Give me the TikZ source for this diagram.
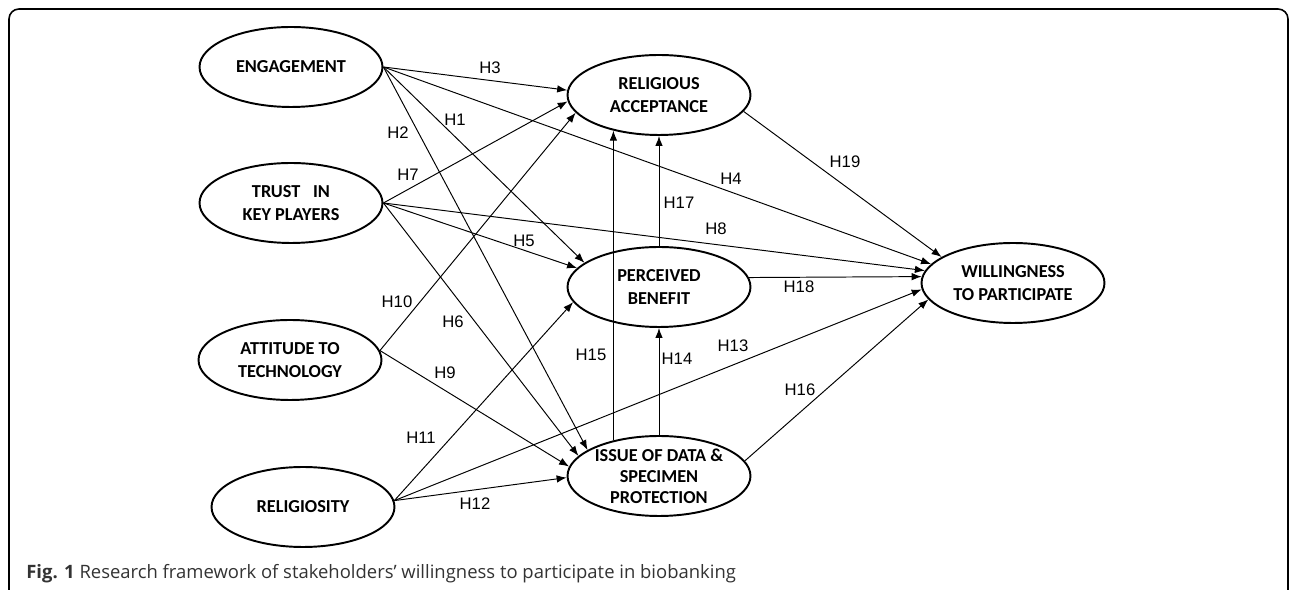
\documentclass[tikz,border=0pt]{standalone}
\usepackage{fontspec}
\usetikzlibrary{shapes.geometric,arrows.meta}
\newfontfamily\constructfont{Carlito}
\newfontfamily\hypfont{Liberation Sans}
\newfontfamily\capfont{Open Sans}

\begin{document}
\begin{tikzpicture}[x=0.02cm,y=-0.02cm,
  construct/.style={ellipse,draw,line width=1.1pt,minimum width=3.66cm,minimum height=1.6cm,inner sep=0pt,align=center,
    font=\constructfont\bfseries\fontsize{10.4}{13.4}\selectfont},
  hyp/.style={inner sep=0pt,font=\hypfont\fontsize{9.5}{11}\selectfont},
  link/.style={-{Latex[length=2mm,width=1.5mm]},line width=0.55pt}]
\useasboundingbox (0,0) rectangle (1292,590);
\draw[line width=0.9pt,rounded corners=0.2cm] (9,640) -- (9,9) -- (1288,9) -- (1288,640);

% constructs
\node[construct] (eng) at (291,67) {ENGAGEMENT};
\node[construct] (trust) at (291,203) {TRUST\hspace{0.7em}IN\\KEY PLAYERS};
\node[construct] (att) at (290,360) {ATTITUDE TO\\TECHNOLOGY};
\node[construct] (rel) at (303,507) {RELIGIOSITY};
\node[construct] (ra) at (659,95) {RELIGIOUS\\ACCEPTANCE};
\node[construct] (pb) at (659,287) {PERCEIVED\\BENEFIT};
\node[construct,font=\constructfont\bfseries\fontsize{10.4}{11.9}\selectfont] (iss) at (659,476) {ISSUE OF DATA \&\\SPECIMEN\\PROTECTION};
\node[construct] (wp) at (1013,283) {WILLINGNESS\\TO PARTICIPATE};

% hypotheses
\draw[link] (eng.east) -- (ra.177);
\draw[link] (eng.east) -- (pb.162);
\draw[link] (eng.east) -- (iss.160);
\draw[link] (eng.east) -- (wp.167);
\draw[link] (trust.east) -- (ra.184);
\draw[link] (trust.east) -- (pb.167);
\draw[link] (trust.east) -- (iss.166);
\draw[link] (trust.east) -- (wp.172);
\draw[link] (att.6) -- (ra.192);
\draw[link] (att.6) -- (iss.174);
\draw[link] (rel.4) -- (pb.190);
\draw[link] (rel.4) -- (iss.181);
\draw[link] (rel.4) -- (wp.184);
\draw[link] (iss.142) -- (ra.218);
\draw[link] (iss.north) -- (pb.south);
\draw[link] (pb.north) -- (ra.south);
\draw[link] (iss.10) -- (wp.191);
\draw[link] (pb.6) -- (wp.176);
\draw[link] (ra.349) -- (wp.160);

\node[hyp] (h1) at (455,120) {H1};
\node[hyp] (h2) at (398,133) {H2};
\node[hyp] (h3) at (490,68) {H3};
\node[hyp] (h4) at (731,179) {H4};
\node[hyp] (h5) at (524,241) {H5};
\node[hyp] (h6) at (453,322) {H6};
\node[hyp] (h7) at (408,175) {H7};
\node[hyp] (h8) at (716,229) {H8};
\node[hyp] (h9) at (445,373) {H9};
\node[hyp] (h10) at (397,302) {H10};
\node[hyp] (h11) at (421,438) {H11};
\node[hyp] (h12) at (475,504) {H12};
\node[hyp] (h13) at (733,346) {H13};
\node[hyp] (h14) at (677,359) {H14};
\node[hyp] (h15) at (591,355) {H15};
\node[hyp] (h16) at (800,390) {H16};
\node[hyp] (h17) at (679,203) {H17};
\node[hyp] (h18) at (799,287) {H18};
\node[hyp] (h19) at (845,162) {H19};

\node[anchor=base west,inner sep=0pt,text=black!80,font=\capfont\fontsize{10.5}{12}\selectfont] (cap) at (26,579)
  {\textbf{Fig. 1} Research framework of stakeholders’ willingness to participate in biobanking};
\end{tikzpicture}
\end{document}
